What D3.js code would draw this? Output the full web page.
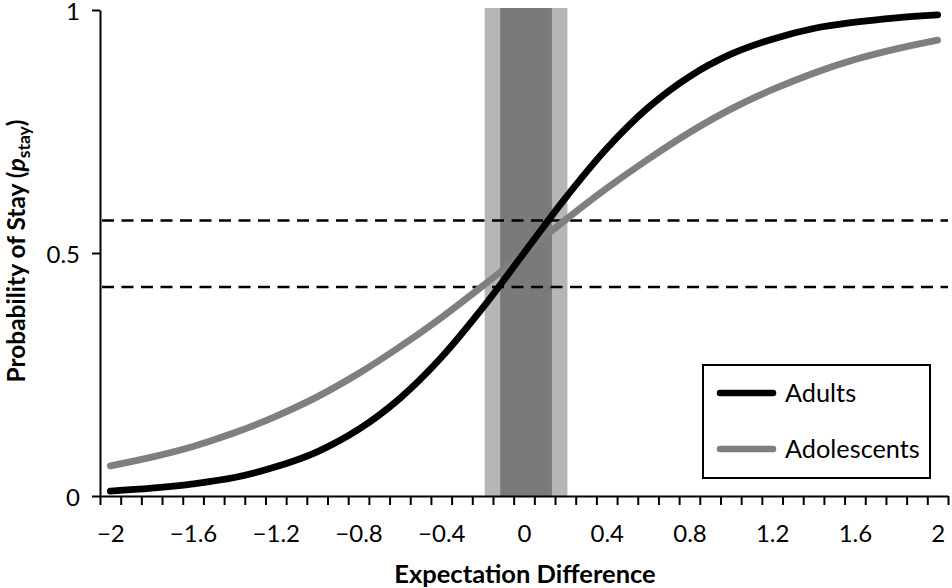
<!DOCTYPE html>
<html>
<head>
<meta charset="utf-8">
<script src="https://cdn.jsdelivr.net/npm/d3@7"></script>
<style>
  body { margin: 0; background: #fff; }
  svg { display: block; font-family: Lato, "Open Sans", sans-serif; }
</style>
</head>
<body>
<svg id="chart" width="952" height="588"></svg>
<script>
// ---- Data ----
const xValues = [-2, -1.8, -1.6, -1.4, -1.2, -1.0, -0.8, -0.6, -0.4, -0.2, 0, 0.2, 0.4, 0.6, 0.8, 1.0, 1.2, 1.4, 1.6, 1.8, 2];
const adults = [0.010, 0.016, 0.025, 0.038, 0.060, 0.091, 0.137, 0.201, 0.285, 0.387, 0.5, 0.613, 0.715, 0.799, 0.863, 0.909, 0.940, 0.962, 0.975, 0.984, 0.990];
const adolescents = [0.062, 0.080, 0.102, 0.130, 0.164, 0.204, 0.252, 0.307, 0.367, 0.432, 0.5, 0.568, 0.633, 0.693, 0.748, 0.796, 0.836, 0.870, 0.898, 0.920, 0.938];
const seriesNames = ["Adults", "Adolescents"];
const thresholds = [0.43, 0.567];
const outerBand = [-0.19, 0.21];
const innerBand = [-0.115, 0.135];
const xTickLabels = [-2, -1.6, -1.2, -0.8, -0.4, 0, 0.4, 0.8, 1.2, 1.6, 2];
const xMinorTicks = d3.range(42).map(k => -2.05 + 0.1 * k);
const yTickLabels = [0, 0.5, 1];

// ---- Layout ----
const svg = d3.select("#chart");
const x = d3.scaleLinear().domain([-2.05, 2.05]).range([100, 948]);
const y = d3.scaleLinear().domain([0, 1]).range([496, 10]);

// bands
svg.append("rect")
  .attr("x", x(outerBand[0])).attr("width", x(outerBand[1]) - x(outerBand[0]))
  .attr("y", y(1) - 2).attr("height", y(0) - y(1) + 2)
  .attr("fill", "#b6b6b6");
svg.append("rect")
  .attr("x", x(innerBand[0])).attr("width", x(innerBand[1]) - x(innerBand[0]))
  .attr("y", y(1) - 2).attr("height", y(0) - y(1) + 2)
  .attr("fill", "#7a7a7a");

// dashed thresholds
svg.selectAll("line.thr").data(thresholds).enter().append("line")
  .attr("class", "thr")
  .attr("x1", x(-2.05) + 2).attr("x2", x(2.05))
  .attr("y1", d => y(d)).attr("y2", d => y(d))
  .attr("stroke", "#000").attr("stroke-width", 2.5)
  .attr("stroke-dasharray", "12,7.5");

// curves
const line = d3.line().x(d => x(d[0])).y(d => y(d[1])).curve(d3.curveCatmullRom.alpha(0.5));
const colors = ["#000000", "#7f7f7f"];
const series = [adults, adolescents];
[1, 0].forEach(i => {
  svg.append("path")
    .datum(xValues.map((v, j) => [v, series[i][j]]))
    .attr("d", line)
    .attr("fill", "none")
    .attr("stroke", colors[i])
    .attr("stroke-width", 6.8)
    .attr("stroke-linecap", "round");
});

// x axis
const xMinor = d3.axisBottom(x).tickValues(xMinorTicks).tickSize(9).tickSizeOuter(0).tickFormat("");
const gxm = svg.append("g").attr("transform", `translate(0,${y(0)})`).call(xMinor);
gxm.select(".domain").attr("stroke-width", 2);
gxm.selectAll(".tick line").attr("stroke-width", 2);

const xLab = d3.axisBottom(x).tickValues(xTickLabels).tickSize(0).tickPadding(28.5)
  .tickFormat(d => (d < 0 ? "\u2212" : "") + Math.abs(d));
const gxl = svg.append("g").attr("transform", `translate(0,${y(0)})`).call(xLab);
gxl.select(".domain").remove();
gxl.selectAll("text").attr("font-size", 24).attr("font-family", "Lato").attr("fill", "#000");

// y axis
const yAx = d3.axisLeft(y).tickValues(yTickLabels).tickSize(8).tickSizeOuter(0).tickPadding(12)
  .tickFormat(d => d3.format("")(d));
const gy = svg.append("g").attr("transform", `translate(${x(-2.05)},0)`).call(yAx);
gy.select(".domain").attr("stroke-width", 2);
gy.selectAll(".tick line").attr("stroke-width", 2);
gy.selectAll("text").attr("font-size", 24).attr("font-family", "Lato").attr("fill", "#000")
  .attr("dy", "0.38em");

// axis titles
svg.append("text")
  .attr("x", 525).attr("y", 583)
  .attr("text-anchor", "middle")
  .attr("font-size", 25.5).attr("font-weight", "bold")
  .text("Expectation Difference");

const yt = svg.append("text")
  .attr("transform", "translate(25,251) rotate(-90)")
  .attr("text-anchor", "middle")
  .attr("font-size", 24.5).attr("font-weight", "bold");
yt.append("tspan").text("Probability of Stay (");
yt.append("tspan").attr("font-style", "italic").text("p");
yt.append("tspan").attr("font-size", 17.5).attr("dy", 5).text("stay");
yt.append("tspan").attr("dy", -5).text(")");

// legend
const lg = svg.append("g");
lg.append("rect").attr("x", 703).attr("y", 365).attr("width", 227).attr("height", 113)
  .attr("fill", "#fff").attr("stroke", "#000").attr("stroke-width", 2);
const legY = [393, 449];
seriesNames.forEach((name, i) => {
  lg.append("line").attr("x1", 720).attr("x2", 773).attr("y1", legY[i]).attr("y2", legY[i])
    .attr("stroke", colors[i]).attr("stroke-width", 6.5).attr("stroke-linecap", "round");
  lg.append("text").attr("x", 785).attr("y", legY[i]).attr("dy", "0.36em")
    .attr("font-size", 25.3).text(name);
});
</script>
</body>
</html>
